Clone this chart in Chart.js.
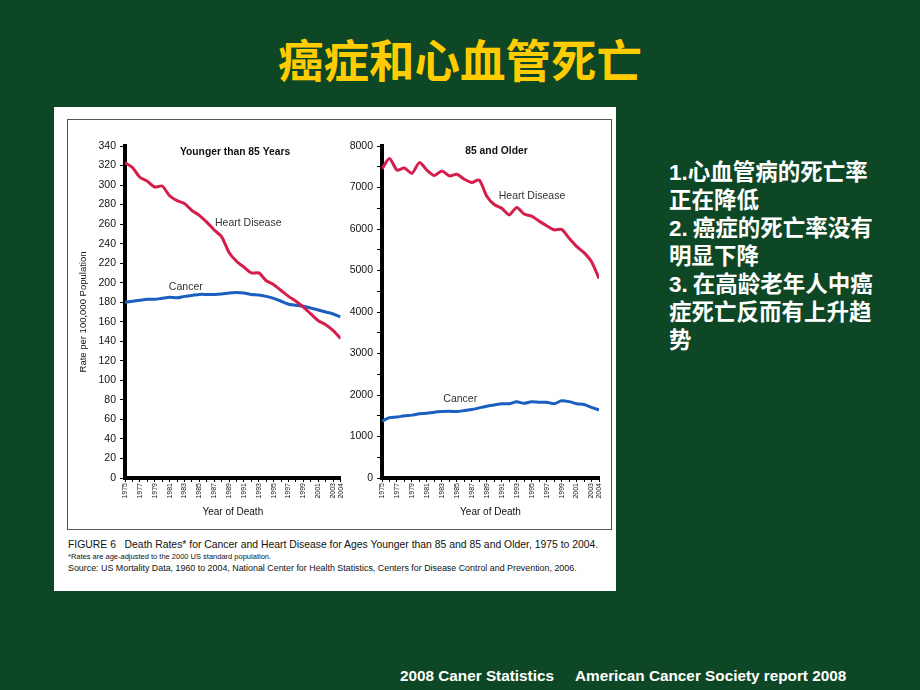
<!DOCTYPE html>
<html>
<head>
<meta charset="utf-8">
<script src="https://cdn.jsdelivr.net/npm/chart.js@4.4.1/dist/chart.umd.min.js"></script>
<style>
  html, body { margin:0; padding:0; }
  body { width:920px; height:690px; background:#0e4725; position:relative; overflow:hidden;
         font-family:"Liberation Sans", Arial, sans-serif; }
  #title { position:absolute; left:0; top:30px; width:920px; height:56px; line-height:56px; text-align:center;
           color:#ffcc00; font-family:"Noto Sans CJK SC", sans-serif; font-weight:bold; font-size:45.5px; }
  #panel { position:absolute; left:54px; top:107px; width:562px; height:484px; background:#fff; }
  #frame { position:absolute; left:67px; top:119px; width:545px; height:411px; border:1.5px solid #555; box-sizing:border-box; }
  canvas { position:absolute; }
  .cap { position:absolute; left:68px; color:#111; white-space:nowrap; font-family:"Liberation Sans", Arial, sans-serif; }
  #notes { position:absolute; left:669px; top:156px; color:#fff; font-size:22.5px;
           font-family:"Noto Sans CJK SC", sans-serif; font-weight:bold; white-space:nowrap; }
  #notes div { height:28px; line-height:28px; overflow:visible; }
  #notes b { font-family:"Liberation Sans", Arial, sans-serif; line-height:28px; }
  .foot { position:absolute; top:667px; color:#fff; font-weight:bold; font-size:15.3px; white-space:nowrap;
          font-family:"Liberation Sans", Arial, sans-serif; }
</style>
</head>
<body>
<div id="title">癌症和心血管死亡</div>
<div id="panel"></div>
<div id="frame"></div>
<canvas id="c1" width="280" height="400" style="left:70px;top:125px;"></canvas>
<canvas id="c2" width="270" height="400" style="left:340px;top:125px;"></canvas>
<div class="cap" style="top:539px;font-size:10.4px;">FIGURE 6&nbsp;&nbsp; Death Rates* for Cancer and Heart Disease for Ages Younger than 85 and 85 and Older, 1975 to 2004.</div>
<div class="cap" style="top:552px;font-size:7.5px;">*Rates are age-adjusted to the 2000 US standard population.</div>
<div class="cap" style="top:563px;font-size:8.9px;">Source: US Mortality Data, 1960 to 2004, National Center for Health Statistics, Centers for Disease Control and Prevention, 2006.</div>
<div id="notes">
  <div><b>1.</b>心血管病的死亡率</div>
  <div>正在降低</div>
  <div><b>2.</b> 癌症的死亡率没有</div>
  <div>明显下降</div>
  <div><b>3.</b> 在高龄老年人中癌</div>
  <div>症死亡反而有上升趋</div>
  <div>势</div>
</div>
<div class="foot" style="left:400px;">2008 Caner Statistics</div>
<div class="foot" style="left:575px;">American Cancer Society report 2008</div>
<script>
const years = [1975,1976,1977,1978,1979,1980,1981,1982,1983,1984,1985,1986,1987,1988,1989,
               1990,1991,1992,1993,1994,1995,1996,1997,1998,1999,2000,2001,2002,2003,2004];
const heartUnder85 = [323,318,308,304,298,299,289,284,281,274,269,262,254,247,231,
                      222,216,210,210,202,198,192,186,181,175,168,161,157,151,143];
const cancerUnder85 = [180,181,182,183,183,184,185,184.5,186,187,188,188,188,188.5,189.5,
                       190,189.5,188,187.5,186,184,181,178,177,176,174,172,170,168,165];
const heart85Plus = [7450,7700,7420,7470,7340,7600,7420,7290,7400,7280,7320,7200,7120,7180,6790,
                     6590,6500,6340,6520,6360,6310,6190,6080,5980,5990,5780,5580,5430,5210,4810];
const cancer85Plus = [1370,1455,1470,1500,1515,1550,1560,1585,1600,1610,1600,1625,1650,1690,1730,
                      1760,1790,1790,1835,1800,1840,1825,1825,1790,1860,1840,1790,1770,1700,1640];
const panelTitles = ["Younger than 85 Years", "85 and Older"];
const seriesNames = ["Heart Disease", "Cancer"];

Chart.defaults.font.family = '"Liberation Sans", Arial, sans-serif';
Chart.defaults.color = '#111';

const HEART = '#d41f4c';
const CANCER = '#1a5fbf';

function labelPlugin(items) {
  return {
    id: 'labels',
    afterDatasetsDraw(chart) {
      const ctx = chart.ctx, xs = chart.scales.x, ys = chart.scales.y;
      ctx.save();
      items.forEach(it => {
        ctx.font = it.font;
        ctx.fillStyle = it.color;
        ctx.textAlign = it.align;
        ctx.textBaseline = 'middle';
        ctx.fillText(it.text, xs.getPixelForValue(it.x), ys.getPixelForValue(it.y));
      });
      ctx.restore();
    }
  };
}

function makeChart(id, heart, cancer, yMax, yStep, yLabelStep, yWidth, padRight, yTitle, labels) {
  return new Chart(document.getElementById(id), {
    type: 'line',
    data: {
      labels: years,
      datasets: [
        { label: seriesNames[0], data: years.map((y,i)=>({x:y, y:heart[i]})), borderColor: HEART, borderWidth: 3, pointRadius: 0, tension: 0.25, fill:false },
        { label: seriesNames[1], data: years.map((y,i)=>({x:y, y:cancer[i]})), borderColor: CANCER, borderWidth: 3, pointRadius: 0, tension: 0.25, fill:false }
      ]
    },
    options: {
      responsive: false,
      animation: false,
      layout: { padding: { top: 21, right: padRight, bottom: 0, left: 0 } },
      plugins: { legend: { display: false }, tooltip: { enabled: false } },
      scales: {
        x: {
          type: 'linear', min: 1975, max: 2004,
          afterBuildTicks: s => { s.ticks = years.map(v => ({ value: v })); },
          afterFit: s => { s.height = 47; },
          ticks: {
            autoSkip: false, minRotation: 90, maxRotation: 90, padding: 1,
            font: { size: 7 }, color: '#111',
            callback: v => ((v - 1975) % 2 === 0 || v === 2004) ? String(v) : ''
          },
          grid: { drawOnChartArea: false, drawTicks: true, tickLength: 4, color: '#000', lineWidth: 1 },
          border: { display: true, color: '#000', width: 4 },
          title: { display: true, text: 'Year of Death', font: { size: 10 }, color: '#111', padding: { top: 0, bottom: 7 } }
        },
        y: {
          min: 0, max: yMax,
          afterFit: s => { s.width = yWidth; },
          ticks: {
            stepSize: yStep, padding: 4, font: { size: 10.5 }, color: '#111',
            callback: v => (v % yLabelStep === 0) ? String(v) : ''
          },
          grid: { drawOnChartArea: false, drawTicks: true, tickLength: 5, color: '#000', lineWidth: 1 },
          border: { display: true, color: '#000', width: 4 },
          title: { display: !!yTitle, text: yTitle || '', font: { size: 9.5 }, color: '#111', padding: { top: 8, bottom: 0 } }
        }
      }
    },
    plugins: [labelPlugin(labels)]
  });
}

makeChart('c1', heartUnder85, cancerUnder85, 340, 10, 20, 55, 8, 'Rate per 100,000 Population', [
  { text: panelTitles[0], x: 1989.8, y: 334, font: 'bold 10.3px "Liberation Sans", Arial', color: '#111', align: 'center' },
  { text: seriesNames[0], x: 1987.1, y: 261, font: '10.5px "Liberation Sans", Arial', color: '#333', align: 'left' },
  { text: seriesNames[1], x: 1980.9, y: 196, font: '10.5px "Liberation Sans", Arial', color: '#333', align: 'left' }
]);
makeChart('c2', heart85Plus, cancer85Plus, 8000, 500, 1000, 42, 11, '', [
  { text: panelTitles[1], x: 1990.3, y: 7887, font: 'bold 10.3px "Liberation Sans", Arial', color: '#111', align: 'center' },
  { text: seriesNames[0], x: 1990.6, y: 6800, font: '10.5px "Liberation Sans", Arial', color: '#333', align: 'left' },
  { text: seriesNames[1], x: 1983.2, y: 1905, font: '10.5px "Liberation Sans", Arial', color: '#333', align: 'left' }
]);
</script>
</body>
</html>
